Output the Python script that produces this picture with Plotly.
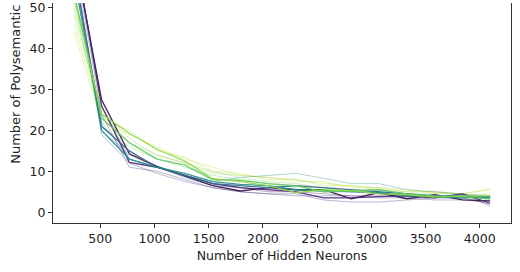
import plotly.graph_objects as go

hidden_neurons = [256, 512, 768, 1024, 1280, 1536, 1792, 2048, 2304, 2560, 2816, 3072, 3328, 3584, 3840, 4096]

# bold runs
bold_series = {
    "run_a": [64, 27.5, 14.3, 11.2, 8.8, 6.5, 5.2, 6.0, 5.5, 5.5, 3.3, 4.8, 3.3, 4.3, 3.0, 2.8],
    "run_b": [65, 26, 12.2, 11, 9.0, 7.0, 6.0, 5.5, 5.0, 3.5, 3.5, 3.8, 4.0, 3.5, 4.5, 2.2],
    "run_c": [60, 21, 15, 11, 9, 7, 6.5, 6, 6.5, 6, 5.5, 5, 4.5, 4, 4, 3.5],
    "run_d": [58, 20, 13, 11, 9.5, 7.5, 6.8, 6.5, 5.5, 5.3, 5, 4.8, 4, 3.8, 3.5, 3.8],
    "run_e": [54, 23, 17, 13, 11.5, 8.0, 7.8, 7, 6.5, 5, 5.2, 5.5, 4.5, 4, 3.8, 3.2],
    "run_f": [53, 24, 19.3, 15.4, 12.5, 8.2, 7.5, 6.5, 4.8, 5.5, 5.3, 4.5, 4.3, 3.7, 4.0, 4.0],
}
bold_colors = ["#2e0d40", "#482878", "#31688e", "#21918c", "#5ec962", "#8fd744"]

# faint runs
faint_series = {
    "f1": [46, 23, 20, 15, 13.5, 10, 9.5, 8, 8, 7, 6.5, 5.5, 5, 5, 4.5, 5.5],
    "f2": [44, 22, 19, 16, 13, 11, 9, 8.5, 7.5, 7.5, 6, 6, 5.5, 4.8, 4.5, 5.8],
    "f3": [48, 25, 18, 14, 12, 9.5, 9, 8.5, 8, 6.5, 6.5, 6, 5, 5, 4, 4.5],
    "f4": [50, 24, 17, 14, 12, 10, 8.5, 7.5, 7, 6, 5.5, 5.5, 4.5, 4.5, 4.5, 3.5],
    "f5": [52, 21, 16, 13, 11, 9, 8, 7, 6, 6, 5, 5, 4.5, 4, 3.5, 4],
    "f6": [60, 20, 14, 11, 8.5, 6.5, 6, 5.5, 5.5, 5, 5, 4.5, 4, 4, 3.5, 3.5],
    "f7": [62, 19, 12, 9.5, 7.5, 6, 5, 4.5, 4, 4, 4, 3.5, 3.5, 3, 3, 2.5],
    "f8": [58, 22, 13, 11, 9, 7.5, 8.5, 9, 9.5, 8.3, 7, 7, 5.5, 5, 4.5, 4],
    "f9": [63, 24, 11, 10, 8, 6, 5, 4.5, 4.5, 3, 2.5, 2.5, 3, 3.5, 4.5, 1.5],
    "f10": [64, 26, 13, 11, 9, 7, 6, 5, 5, 4.5, 4, 4, 4, 3.5, 3.5, 2],
}
faint_colors = ["#b5de2b", "#c8e020", "#a0da39", "#7ad151", "#6ece58",
                "#31688e", "#3e4989", "#26828e", "#482878", "#440154"]

x_ticks = [500, 1000, 1500, 2000, 2500, 3000, 3500, 4000]
y_ticks = [0, 10, 20, 30, 40, 50]

fig = go.Figure()
for (name, vals), c in zip(faint_series.items(), faint_colors):
    fig.add_trace(go.Scatter(x=hidden_neurons, y=vals, mode="lines",
                             line=dict(color=c, width=1), opacity=0.35,
                             showlegend=False, hoverinfo="skip"))
for (name, vals), c in zip(bold_series.items(), bold_colors):
    fig.add_trace(go.Scatter(x=hidden_neurons, y=vals, mode="lines",
                             line=dict(color=c, width=1.3), opacity=0.9,
                             showlegend=False))

font = "DejaVu Sans"
fig.update_layout(
    width=520, height=272,
    margin=dict(l=53, r=9, t=0, b=49),
    paper_bgcolor="white", plot_bgcolor="white",
    font=dict(family=font, size=12.5, color="#222"),
    xaxis=dict(range=[64, 4288], tickvals=x_ticks, showgrid=False, zeroline=False,
               showline=True, linecolor="#333", linewidth=1.2,
               ticks="outside", ticklen=4, tickcolor="#333",
               title=dict(text="Number of Hidden Neurons", standoff=6,
                          font=dict(family=font, size=12.5))),
    yaxis=dict(range=[-2.63, 51.16], tickvals=y_ticks, showgrid=False, zeroline=False,
               showline=True, mirror=True, linecolor="#333", linewidth=1.2,
               ticks="outside", ticklen=4, tickcolor="#333",
               ticklabeloverflow="allow"),
    annotations=[dict(text="Number of Polysemantic", textangle=-90,
                      xref="paper", yref="paper", x=-0.0823, y=1.0,
                      xanchor="center", yanchor="top", showarrow=False,
                      font=dict(family=font, size=13, color="#222"))],
)
fig.write_html("out.html")
